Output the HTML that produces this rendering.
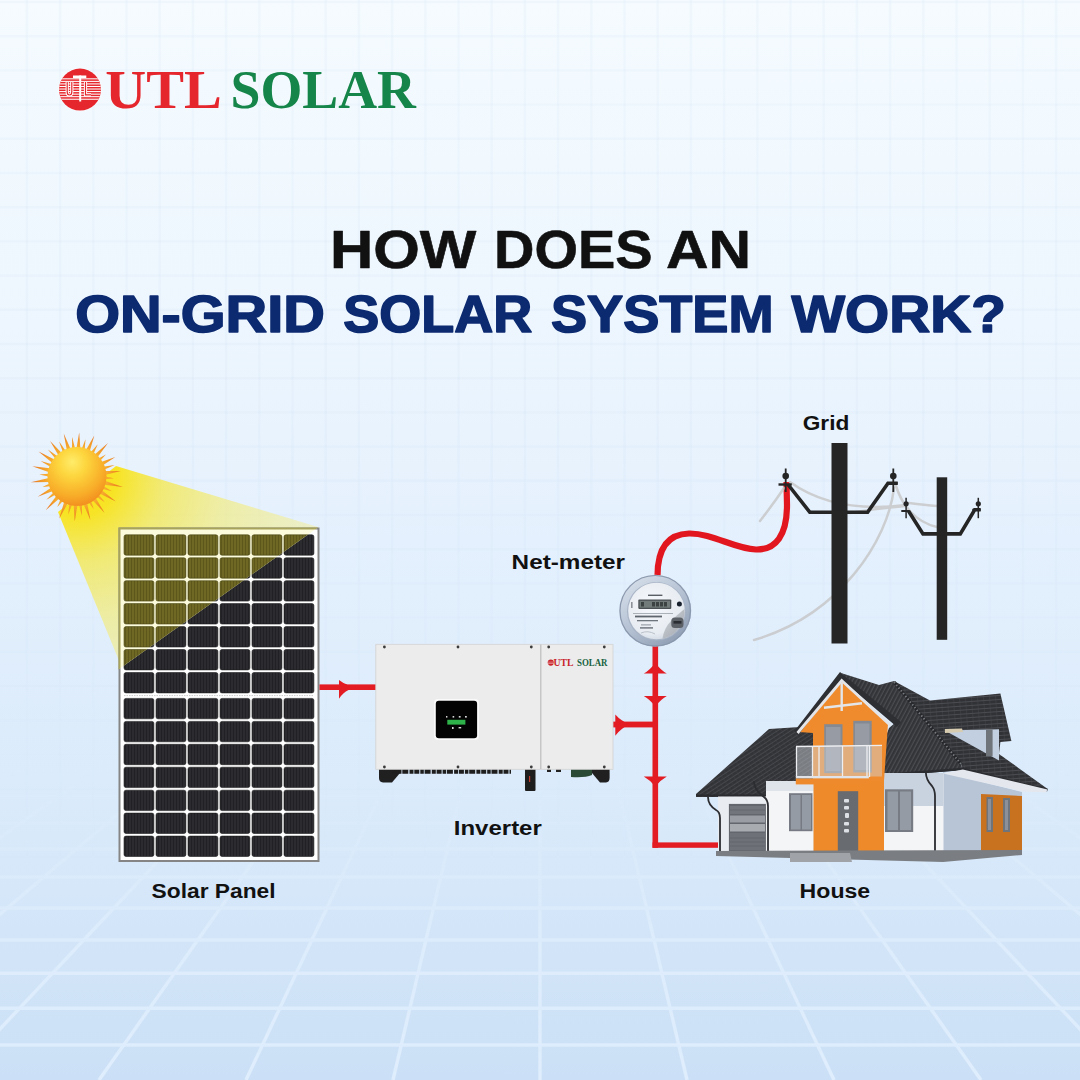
<!DOCTYPE html>
<html><head><meta charset="utf-8"><title>UTL Solar</title>
<style>
html,body{margin:0;padding:0}
body{width:1080px;height:1080px;overflow:hidden;position:relative;background:#e6f1fc;font-family:"Liberation Sans",sans-serif}
svg{position:absolute;left:0;top:0;display:block}
</style></head><body>
<svg width="1080" height="1080" viewBox="0 0 1080 1080">
<defs>
<linearGradient id="bgG" x1="0" y1="0" x2="0" y2="1">
  <stop offset="0" stop-color="#f5fbff"/>
  <stop offset="0.3" stop-color="#edf6fe"/>
  <stop offset="0.5" stop-color="#e4f0fd"/>
  <stop offset="0.72" stop-color="#dbebfb"/>
  <stop offset="1" stop-color="#cbe0f6"/>
</linearGradient>
<linearGradient id="floorFade" x1="0" y1="0" x2="0" y2="1">
  <stop offset="0" stop-color="#fff" stop-opacity="0"/>
  <stop offset="0.3" stop-color="#fff" stop-opacity="0.3"/>
  <stop offset="0.55" stop-color="#fff" stop-opacity="0.75"/>
  <stop offset="1" stop-color="#fff" stop-opacity="1"/>
</linearGradient>
<mask id="floorMask"><rect x="0" y="760" width="1080" height="320" fill="url(#floorFade)"/></mask>
<linearGradient id="gridFade" x1="0" y1="0" x2="0" y2="1">
  <stop offset="0" stop-color="#fff" stop-opacity="1"/>
  <stop offset="0.45" stop-color="#fff" stop-opacity="1"/>
  <stop offset="0.7" stop-color="#fff" stop-opacity="0.45"/>
  <stop offset="1" stop-color="#fff" stop-opacity="0"/>
</linearGradient>
<mask id="gridMask"><rect x="0" y="0" width="1080" height="880" fill="url(#gridFade)"/></mask>
<radialGradient id="sunG" cx="0.42" cy="0.3" r="0.78" fx="0.42" fy="0.25">
  <stop offset="0" stop-color="#ffec6a"/>
  <stop offset="0.3" stop-color="#fdd63e"/>
  <stop offset="0.7" stop-color="#f8ac28"/>
  <stop offset="1" stop-color="#f0841c"/>
</radialGradient>
<radialGradient id="rayG" gradientUnits="userSpaceOnUse" cx="77" cy="476.5" r="45">
  <stop offset="0.6" stop-color="#f9b631"/>
  <stop offset="0.85" stop-color="#f09026"/>
  <stop offset="1" stop-color="#e76f1c"/>
</radialGradient>
<radialGradient id="beamG" gradientUnits="userSpaceOnUse" cx="77" cy="476" r="250">
  <stop offset="0" stop-color="#f9e210" stop-opacity="1"/>
  <stop offset="0.16" stop-color="#f8e31a" stop-opacity="0.95"/>
  <stop offset="0.35" stop-color="#f5e84a" stop-opacity="0.75"/>
  <stop offset="0.6" stop-color="#f2ec80" stop-opacity="0.68"/>
  <stop offset="1" stop-color="#f0eeaa" stop-opacity="0.6"/>
</radialGradient>
<clipPath id="beamClip"><polygon points="117,526 320,526 117,670.5"/></clipPath>
<pattern id="cellPY" patternUnits="userSpaceOnUse" width="3" height="40" x="0" y="0">
  <rect width="3" height="40" fill="#6e6824"/>
  <rect x="2.2" width="0.8" height="40" fill="#58531a"/>
</pattern>
<pattern id="cellP" patternUnits="userSpaceOnUse" width="3" height="40" x="0" y="0">
  <rect width="3" height="40" fill="#2c2c30"/>
  <rect x="2.2" width="0.8" height="40" fill="#1e1e22"/>
</pattern>
</defs>
<rect width="1080" height="1080" fill="url(#bgG)"/><g stroke="rgb(150,180,215)" stroke-opacity="0.055" stroke-width="2.4" mask="url(#gridMask)"><line x1="26.9" y1="0" x2="26.9" y2="1080"/><line x1="60.1" y1="0" x2="60.1" y2="1080"/><line x1="93.3" y1="0" x2="93.3" y2="1080"/><line x1="126.5" y1="0" x2="126.5" y2="1080"/><line x1="159.7" y1="0" x2="159.7" y2="1080"/><line x1="192.9" y1="0" x2="192.9" y2="1080"/><line x1="226.1" y1="0" x2="226.1" y2="1080"/><line x1="259.3" y1="0" x2="259.3" y2="1080"/><line x1="292.5" y1="0" x2="292.5" y2="1080"/><line x1="325.7" y1="0" x2="325.7" y2="1080"/><line x1="358.9" y1="0" x2="358.9" y2="1080"/><line x1="392.1" y1="0" x2="392.1" y2="1080"/><line x1="425.3" y1="0" x2="425.3" y2="1080"/><line x1="458.5" y1="0" x2="458.5" y2="1080"/><line x1="491.7" y1="0" x2="491.7" y2="1080"/><line x1="524.9" y1="0" x2="524.9" y2="1080"/><line x1="558.1" y1="0" x2="558.1" y2="1080"/><line x1="591.3" y1="0" x2="591.3" y2="1080"/><line x1="624.5" y1="0" x2="624.5" y2="1080"/><line x1="657.7" y1="0" x2="657.7" y2="1080"/><line x1="690.9" y1="0" x2="690.9" y2="1080"/><line x1="724.1" y1="0" x2="724.1" y2="1080"/><line x1="757.3" y1="0" x2="757.3" y2="1080"/><line x1="790.5" y1="0" x2="790.5" y2="1080"/><line x1="823.7" y1="0" x2="823.7" y2="1080"/><line x1="856.9" y1="0" x2="856.9" y2="1080"/><line x1="890.1" y1="0" x2="890.1" y2="1080"/><line x1="923.3" y1="0" x2="923.3" y2="1080"/><line x1="956.5" y1="0" x2="956.5" y2="1080"/><line x1="989.7" y1="0" x2="989.7" y2="1080"/><line x1="1022.9" y1="0" x2="1022.9" y2="1080"/><line x1="1056.1" y1="0" x2="1056.1" y2="1080"/><line x1="0" y1="2.0" x2="1080" y2="2.0"/><line x1="0" y1="36.2" x2="1080" y2="36.2"/><line x1="0" y1="70.4" x2="1080" y2="70.4"/><line x1="0" y1="104.6" x2="1080" y2="104.6"/><line x1="0" y1="138.8" x2="1080" y2="138.8"/><line x1="0" y1="173.0" x2="1080" y2="173.0"/><line x1="0" y1="207.2" x2="1080" y2="207.2"/><line x1="0" y1="241.4" x2="1080" y2="241.4"/><line x1="0" y1="275.6" x2="1080" y2="275.6"/><line x1="0" y1="309.8" x2="1080" y2="309.8"/><line x1="0" y1="344.0" x2="1080" y2="344.0"/><line x1="0" y1="378.2" x2="1080" y2="378.2"/><line x1="0" y1="412.4" x2="1080" y2="412.4"/><line x1="0" y1="446.6" x2="1080" y2="446.6"/><line x1="0" y1="480.8" x2="1080" y2="480.8"/><line x1="0" y1="515.0" x2="1080" y2="515.0"/><line x1="0" y1="549.2" x2="1080" y2="549.2"/><line x1="0" y1="583.4" x2="1080" y2="583.4"/><line x1="0" y1="617.6" x2="1080" y2="617.6"/><line x1="0" y1="651.8" x2="1080" y2="651.8"/><line x1="0" y1="686.0" x2="1080" y2="686.0"/><line x1="0" y1="720.2" x2="1080" y2="720.2"/><line x1="0" y1="754.4" x2="1080" y2="754.4"/><line x1="0" y1="788.6" x2="1080" y2="788.6"/><line x1="0" y1="822.8" x2="1080" y2="822.8"/><line x1="0" y1="857.0" x2="1080" y2="857.0"/><line x1="0" y1="891.2" x2="1080" y2="891.2"/><line x1="0" y1="925.4" x2="1080" y2="925.4"/><line x1="0" y1="959.6" x2="1080" y2="959.6"/><line x1="0" y1="993.8" x2="1080" y2="993.8"/><line x1="0" y1="1028.0" x2="1080" y2="1028.0"/><line x1="0" y1="1062.2" x2="1080" y2="1062.2"/></g><g stroke="#e6f2ff" stroke-width="3.4" mask="url(#floorMask)" opacity="0.75"><line x1="-783" y1="1080" x2="-105.6" y2="760"/><line x1="-636" y1="1080" x2="-33.9" y2="760"/><line x1="-489" y1="1080" x2="37.8" y2="760"/><line x1="-342" y1="1080" x2="109.6" y2="760"/><line x1="-195" y1="1080" x2="181.3" y2="760"/><line x1="-48" y1="1080" x2="253.1" y2="760"/><line x1="99" y1="1080" x2="324.8" y2="760"/><line x1="246" y1="1080" x2="396.5" y2="760"/><line x1="393" y1="1080" x2="468.3" y2="760"/><line x1="540" y1="1080" x2="540.0" y2="760"/><line x1="687" y1="1080" x2="611.7" y2="760"/><line x1="834" y1="1080" x2="683.5" y2="760"/><line x1="981" y1="1080" x2="755.2" y2="760"/><line x1="1128" y1="1080" x2="826.9" y2="760"/><line x1="1275" y1="1080" x2="898.7" y2="760"/><line x1="1422" y1="1080" x2="970.4" y2="760"/><line x1="1569" y1="1080" x2="1042.2" y2="760"/><line x1="1716" y1="1080" x2="1113.9" y2="760"/><line x1="1863" y1="1080" x2="1185.6" y2="760"/><line x1="0" y1="797" x2="1080" y2="797"/><line x1="0" y1="823" x2="1080" y2="823"/><line x1="0" y1="849" x2="1080" y2="849"/><line x1="0" y1="877" x2="1080" y2="877"/><line x1="0" y1="908" x2="1080" y2="908"/><line x1="0" y1="940" x2="1080" y2="940"/><line x1="0" y1="973.3" x2="1080" y2="973.3"/><line x1="0" y1="1008.3" x2="1080" y2="1008.3"/><line x1="0" y1="1045" x2="1080" y2="1045"/></g><polygon points="116,466 318,527 318,530 122,668 58,512" fill="url(#beamG)"/><rect x="119.5" y="528.5" width="199" height="332.5" fill="#ffffff" stroke="#858585" stroke-width="2"/><rect x="124.0" y="534.8" width="29.9" height="20.4" rx="2" fill="url(#cellP)" stroke="#1c1c1f" stroke-width="0.6"/><rect x="156.0" y="534.8" width="29.9" height="20.4" rx="2" fill="url(#cellP)" stroke="#1c1c1f" stroke-width="0.6"/><rect x="188.0" y="534.8" width="29.9" height="20.4" rx="2" fill="url(#cellP)" stroke="#1c1c1f" stroke-width="0.6"/><rect x="220.0" y="534.8" width="29.9" height="20.4" rx="2" fill="url(#cellP)" stroke="#1c1c1f" stroke-width="0.6"/><rect x="252.0" y="534.8" width="29.9" height="20.4" rx="2" fill="url(#cellP)" stroke="#1c1c1f" stroke-width="0.6"/><rect x="284.0" y="534.8" width="29.9" height="20.4" rx="2" fill="url(#cellP)" stroke="#1c1c1f" stroke-width="0.6"/><rect x="124.0" y="557.8" width="29.9" height="20.4" rx="2" fill="url(#cellP)" stroke="#1c1c1f" stroke-width="0.6"/><rect x="156.0" y="557.8" width="29.9" height="20.4" rx="2" fill="url(#cellP)" stroke="#1c1c1f" stroke-width="0.6"/><rect x="188.0" y="557.8" width="29.9" height="20.4" rx="2" fill="url(#cellP)" stroke="#1c1c1f" stroke-width="0.6"/><rect x="220.0" y="557.8" width="29.9" height="20.4" rx="2" fill="url(#cellP)" stroke="#1c1c1f" stroke-width="0.6"/><rect x="252.0" y="557.8" width="29.9" height="20.4" rx="2" fill="url(#cellP)" stroke="#1c1c1f" stroke-width="0.6"/><rect x="284.0" y="557.8" width="29.9" height="20.4" rx="2" fill="url(#cellP)" stroke="#1c1c1f" stroke-width="0.6"/><rect x="124.0" y="580.7" width="29.9" height="20.4" rx="2" fill="url(#cellP)" stroke="#1c1c1f" stroke-width="0.6"/><rect x="156.0" y="580.7" width="29.9" height="20.4" rx="2" fill="url(#cellP)" stroke="#1c1c1f" stroke-width="0.6"/><rect x="188.0" y="580.7" width="29.9" height="20.4" rx="2" fill="url(#cellP)" stroke="#1c1c1f" stroke-width="0.6"/><rect x="220.0" y="580.7" width="29.9" height="20.4" rx="2" fill="url(#cellP)" stroke="#1c1c1f" stroke-width="0.6"/><rect x="252.0" y="580.7" width="29.9" height="20.4" rx="2" fill="url(#cellP)" stroke="#1c1c1f" stroke-width="0.6"/><rect x="284.0" y="580.7" width="29.9" height="20.4" rx="2" fill="url(#cellP)" stroke="#1c1c1f" stroke-width="0.6"/><rect x="124.0" y="603.6" width="29.9" height="20.4" rx="2" fill="url(#cellP)" stroke="#1c1c1f" stroke-width="0.6"/><rect x="156.0" y="603.6" width="29.9" height="20.4" rx="2" fill="url(#cellP)" stroke="#1c1c1f" stroke-width="0.6"/><rect x="188.0" y="603.6" width="29.9" height="20.4" rx="2" fill="url(#cellP)" stroke="#1c1c1f" stroke-width="0.6"/><rect x="220.0" y="603.6" width="29.9" height="20.4" rx="2" fill="url(#cellP)" stroke="#1c1c1f" stroke-width="0.6"/><rect x="252.0" y="603.6" width="29.9" height="20.4" rx="2" fill="url(#cellP)" stroke="#1c1c1f" stroke-width="0.6"/><rect x="284.0" y="603.6" width="29.9" height="20.4" rx="2" fill="url(#cellP)" stroke="#1c1c1f" stroke-width="0.6"/><rect x="124.0" y="626.6" width="29.9" height="20.4" rx="2" fill="url(#cellP)" stroke="#1c1c1f" stroke-width="0.6"/><rect x="156.0" y="626.6" width="29.9" height="20.4" rx="2" fill="url(#cellP)" stroke="#1c1c1f" stroke-width="0.6"/><rect x="188.0" y="626.6" width="29.9" height="20.4" rx="2" fill="url(#cellP)" stroke="#1c1c1f" stroke-width="0.6"/><rect x="220.0" y="626.6" width="29.9" height="20.4" rx="2" fill="url(#cellP)" stroke="#1c1c1f" stroke-width="0.6"/><rect x="252.0" y="626.6" width="29.9" height="20.4" rx="2" fill="url(#cellP)" stroke="#1c1c1f" stroke-width="0.6"/><rect x="284.0" y="626.6" width="29.9" height="20.4" rx="2" fill="url(#cellP)" stroke="#1c1c1f" stroke-width="0.6"/><rect x="124.0" y="649.5" width="29.9" height="20.4" rx="2" fill="url(#cellP)" stroke="#1c1c1f" stroke-width="0.6"/><rect x="156.0" y="649.5" width="29.9" height="20.4" rx="2" fill="url(#cellP)" stroke="#1c1c1f" stroke-width="0.6"/><rect x="188.0" y="649.5" width="29.9" height="20.4" rx="2" fill="url(#cellP)" stroke="#1c1c1f" stroke-width="0.6"/><rect x="220.0" y="649.5" width="29.9" height="20.4" rx="2" fill="url(#cellP)" stroke="#1c1c1f" stroke-width="0.6"/><rect x="252.0" y="649.5" width="29.9" height="20.4" rx="2" fill="url(#cellP)" stroke="#1c1c1f" stroke-width="0.6"/><rect x="284.0" y="649.5" width="29.9" height="20.4" rx="2" fill="url(#cellP)" stroke="#1c1c1f" stroke-width="0.6"/><rect x="124.0" y="672.5" width="29.9" height="20.4" rx="2" fill="url(#cellP)" stroke="#1c1c1f" stroke-width="0.6"/><rect x="156.0" y="672.5" width="29.9" height="20.4" rx="2" fill="url(#cellP)" stroke="#1c1c1f" stroke-width="0.6"/><rect x="188.0" y="672.5" width="29.9" height="20.4" rx="2" fill="url(#cellP)" stroke="#1c1c1f" stroke-width="0.6"/><rect x="220.0" y="672.5" width="29.9" height="20.4" rx="2" fill="url(#cellP)" stroke="#1c1c1f" stroke-width="0.6"/><rect x="252.0" y="672.5" width="29.9" height="20.4" rx="2" fill="url(#cellP)" stroke="#1c1c1f" stroke-width="0.6"/><rect x="284.0" y="672.5" width="29.9" height="20.4" rx="2" fill="url(#cellP)" stroke="#1c1c1f" stroke-width="0.6"/><rect x="124.0" y="698.4" width="29.9" height="20.4" rx="2" fill="url(#cellP)" stroke="#1c1c1f" stroke-width="0.6"/><rect x="156.0" y="698.4" width="29.9" height="20.4" rx="2" fill="url(#cellP)" stroke="#1c1c1f" stroke-width="0.6"/><rect x="188.0" y="698.4" width="29.9" height="20.4" rx="2" fill="url(#cellP)" stroke="#1c1c1f" stroke-width="0.6"/><rect x="220.0" y="698.4" width="29.9" height="20.4" rx="2" fill="url(#cellP)" stroke="#1c1c1f" stroke-width="0.6"/><rect x="252.0" y="698.4" width="29.9" height="20.4" rx="2" fill="url(#cellP)" stroke="#1c1c1f" stroke-width="0.6"/><rect x="284.0" y="698.4" width="29.9" height="20.4" rx="2" fill="url(#cellP)" stroke="#1c1c1f" stroke-width="0.6"/><rect x="124.0" y="721.4" width="29.9" height="20.4" rx="2" fill="url(#cellP)" stroke="#1c1c1f" stroke-width="0.6"/><rect x="156.0" y="721.4" width="29.9" height="20.4" rx="2" fill="url(#cellP)" stroke="#1c1c1f" stroke-width="0.6"/><rect x="188.0" y="721.4" width="29.9" height="20.4" rx="2" fill="url(#cellP)" stroke="#1c1c1f" stroke-width="0.6"/><rect x="220.0" y="721.4" width="29.9" height="20.4" rx="2" fill="url(#cellP)" stroke="#1c1c1f" stroke-width="0.6"/><rect x="252.0" y="721.4" width="29.9" height="20.4" rx="2" fill="url(#cellP)" stroke="#1c1c1f" stroke-width="0.6"/><rect x="284.0" y="721.4" width="29.9" height="20.4" rx="2" fill="url(#cellP)" stroke="#1c1c1f" stroke-width="0.6"/><rect x="124.0" y="744.3" width="29.9" height="20.4" rx="2" fill="url(#cellP)" stroke="#1c1c1f" stroke-width="0.6"/><rect x="156.0" y="744.3" width="29.9" height="20.4" rx="2" fill="url(#cellP)" stroke="#1c1c1f" stroke-width="0.6"/><rect x="188.0" y="744.3" width="29.9" height="20.4" rx="2" fill="url(#cellP)" stroke="#1c1c1f" stroke-width="0.6"/><rect x="220.0" y="744.3" width="29.9" height="20.4" rx="2" fill="url(#cellP)" stroke="#1c1c1f" stroke-width="0.6"/><rect x="252.0" y="744.3" width="29.9" height="20.4" rx="2" fill="url(#cellP)" stroke="#1c1c1f" stroke-width="0.6"/><rect x="284.0" y="744.3" width="29.9" height="20.4" rx="2" fill="url(#cellP)" stroke="#1c1c1f" stroke-width="0.6"/><rect x="124.0" y="767.2" width="29.9" height="20.4" rx="2" fill="url(#cellP)" stroke="#1c1c1f" stroke-width="0.6"/><rect x="156.0" y="767.2" width="29.9" height="20.4" rx="2" fill="url(#cellP)" stroke="#1c1c1f" stroke-width="0.6"/><rect x="188.0" y="767.2" width="29.9" height="20.4" rx="2" fill="url(#cellP)" stroke="#1c1c1f" stroke-width="0.6"/><rect x="220.0" y="767.2" width="29.9" height="20.4" rx="2" fill="url(#cellP)" stroke="#1c1c1f" stroke-width="0.6"/><rect x="252.0" y="767.2" width="29.9" height="20.4" rx="2" fill="url(#cellP)" stroke="#1c1c1f" stroke-width="0.6"/><rect x="284.0" y="767.2" width="29.9" height="20.4" rx="2" fill="url(#cellP)" stroke="#1c1c1f" stroke-width="0.6"/><rect x="124.0" y="790.2" width="29.9" height="20.4" rx="2" fill="url(#cellP)" stroke="#1c1c1f" stroke-width="0.6"/><rect x="156.0" y="790.2" width="29.9" height="20.4" rx="2" fill="url(#cellP)" stroke="#1c1c1f" stroke-width="0.6"/><rect x="188.0" y="790.2" width="29.9" height="20.4" rx="2" fill="url(#cellP)" stroke="#1c1c1f" stroke-width="0.6"/><rect x="220.0" y="790.2" width="29.9" height="20.4" rx="2" fill="url(#cellP)" stroke="#1c1c1f" stroke-width="0.6"/><rect x="252.0" y="790.2" width="29.9" height="20.4" rx="2" fill="url(#cellP)" stroke="#1c1c1f" stroke-width="0.6"/><rect x="284.0" y="790.2" width="29.9" height="20.4" rx="2" fill="url(#cellP)" stroke="#1c1c1f" stroke-width="0.6"/><rect x="124.0" y="813.1" width="29.9" height="20.4" rx="2" fill="url(#cellP)" stroke="#1c1c1f" stroke-width="0.6"/><rect x="156.0" y="813.1" width="29.9" height="20.4" rx="2" fill="url(#cellP)" stroke="#1c1c1f" stroke-width="0.6"/><rect x="188.0" y="813.1" width="29.9" height="20.4" rx="2" fill="url(#cellP)" stroke="#1c1c1f" stroke-width="0.6"/><rect x="220.0" y="813.1" width="29.9" height="20.4" rx="2" fill="url(#cellP)" stroke="#1c1c1f" stroke-width="0.6"/><rect x="252.0" y="813.1" width="29.9" height="20.4" rx="2" fill="url(#cellP)" stroke="#1c1c1f" stroke-width="0.6"/><rect x="284.0" y="813.1" width="29.9" height="20.4" rx="2" fill="url(#cellP)" stroke="#1c1c1f" stroke-width="0.6"/><rect x="124.0" y="836.1" width="29.9" height="20.4" rx="2" fill="url(#cellP)" stroke="#1c1c1f" stroke-width="0.6"/><rect x="156.0" y="836.1" width="29.9" height="20.4" rx="2" fill="url(#cellP)" stroke="#1c1c1f" stroke-width="0.6"/><rect x="188.0" y="836.1" width="29.9" height="20.4" rx="2" fill="url(#cellP)" stroke="#1c1c1f" stroke-width="0.6"/><rect x="220.0" y="836.1" width="29.9" height="20.4" rx="2" fill="url(#cellP)" stroke="#1c1c1f" stroke-width="0.6"/><rect x="252.0" y="836.1" width="29.9" height="20.4" rx="2" fill="url(#cellP)" stroke="#1c1c1f" stroke-width="0.6"/><rect x="284.0" y="836.1" width="29.9" height="20.4" rx="2" fill="url(#cellP)" stroke="#1c1c1f" stroke-width="0.6"/><line x1="124" y1="695.6" x2="314" y2="695.6" stroke="#bdbdbd" stroke-width="0.8" stroke-dasharray="1.5 1"/><g clip-path="url(#beamClip)"><rect x="119.5" y="528.5" width="199" height="332.5" fill="#fcfbdc" stroke="#a8a35a" stroke-width="2"/><rect x="124.0" y="534.8" width="29.9" height="20.4" rx="2" fill="url(#cellPY)" stroke="#4a4514" stroke-width="0.6"/><rect x="156.0" y="534.8" width="29.9" height="20.4" rx="2" fill="url(#cellPY)" stroke="#4a4514" stroke-width="0.6"/><rect x="188.0" y="534.8" width="29.9" height="20.4" rx="2" fill="url(#cellPY)" stroke="#4a4514" stroke-width="0.6"/><rect x="220.0" y="534.8" width="29.9" height="20.4" rx="2" fill="url(#cellPY)" stroke="#4a4514" stroke-width="0.6"/><rect x="252.0" y="534.8" width="29.9" height="20.4" rx="2" fill="url(#cellPY)" stroke="#4a4514" stroke-width="0.6"/><rect x="284.0" y="534.8" width="29.9" height="20.4" rx="2" fill="url(#cellPY)" stroke="#4a4514" stroke-width="0.6"/><rect x="124.0" y="557.8" width="29.9" height="20.4" rx="2" fill="url(#cellPY)" stroke="#4a4514" stroke-width="0.6"/><rect x="156.0" y="557.8" width="29.9" height="20.4" rx="2" fill="url(#cellPY)" stroke="#4a4514" stroke-width="0.6"/><rect x="188.0" y="557.8" width="29.9" height="20.4" rx="2" fill="url(#cellPY)" stroke="#4a4514" stroke-width="0.6"/><rect x="220.0" y="557.8" width="29.9" height="20.4" rx="2" fill="url(#cellPY)" stroke="#4a4514" stroke-width="0.6"/><rect x="252.0" y="557.8" width="29.9" height="20.4" rx="2" fill="url(#cellPY)" stroke="#4a4514" stroke-width="0.6"/><rect x="284.0" y="557.8" width="29.9" height="20.4" rx="2" fill="url(#cellPY)" stroke="#4a4514" stroke-width="0.6"/><rect x="124.0" y="580.7" width="29.9" height="20.4" rx="2" fill="url(#cellPY)" stroke="#4a4514" stroke-width="0.6"/><rect x="156.0" y="580.7" width="29.9" height="20.4" rx="2" fill="url(#cellPY)" stroke="#4a4514" stroke-width="0.6"/><rect x="188.0" y="580.7" width="29.9" height="20.4" rx="2" fill="url(#cellPY)" stroke="#4a4514" stroke-width="0.6"/><rect x="220.0" y="580.7" width="29.9" height="20.4" rx="2" fill="url(#cellPY)" stroke="#4a4514" stroke-width="0.6"/><rect x="252.0" y="580.7" width="29.9" height="20.4" rx="2" fill="url(#cellPY)" stroke="#4a4514" stroke-width="0.6"/><rect x="284.0" y="580.7" width="29.9" height="20.4" rx="2" fill="url(#cellPY)" stroke="#4a4514" stroke-width="0.6"/><rect x="124.0" y="603.6" width="29.9" height="20.4" rx="2" fill="url(#cellPY)" stroke="#4a4514" stroke-width="0.6"/><rect x="156.0" y="603.6" width="29.9" height="20.4" rx="2" fill="url(#cellPY)" stroke="#4a4514" stroke-width="0.6"/><rect x="188.0" y="603.6" width="29.9" height="20.4" rx="2" fill="url(#cellPY)" stroke="#4a4514" stroke-width="0.6"/><rect x="220.0" y="603.6" width="29.9" height="20.4" rx="2" fill="url(#cellPY)" stroke="#4a4514" stroke-width="0.6"/><rect x="252.0" y="603.6" width="29.9" height="20.4" rx="2" fill="url(#cellPY)" stroke="#4a4514" stroke-width="0.6"/><rect x="284.0" y="603.6" width="29.9" height="20.4" rx="2" fill="url(#cellPY)" stroke="#4a4514" stroke-width="0.6"/><rect x="124.0" y="626.6" width="29.9" height="20.4" rx="2" fill="url(#cellPY)" stroke="#4a4514" stroke-width="0.6"/><rect x="156.0" y="626.6" width="29.9" height="20.4" rx="2" fill="url(#cellPY)" stroke="#4a4514" stroke-width="0.6"/><rect x="188.0" y="626.6" width="29.9" height="20.4" rx="2" fill="url(#cellPY)" stroke="#4a4514" stroke-width="0.6"/><rect x="220.0" y="626.6" width="29.9" height="20.4" rx="2" fill="url(#cellPY)" stroke="#4a4514" stroke-width="0.6"/><rect x="252.0" y="626.6" width="29.9" height="20.4" rx="2" fill="url(#cellPY)" stroke="#4a4514" stroke-width="0.6"/><rect x="284.0" y="626.6" width="29.9" height="20.4" rx="2" fill="url(#cellPY)" stroke="#4a4514" stroke-width="0.6"/><rect x="124.0" y="649.5" width="29.9" height="20.4" rx="2" fill="url(#cellPY)" stroke="#4a4514" stroke-width="0.6"/><rect x="156.0" y="649.5" width="29.9" height="20.4" rx="2" fill="url(#cellPY)" stroke="#4a4514" stroke-width="0.6"/><rect x="188.0" y="649.5" width="29.9" height="20.4" rx="2" fill="url(#cellPY)" stroke="#4a4514" stroke-width="0.6"/><rect x="220.0" y="649.5" width="29.9" height="20.4" rx="2" fill="url(#cellPY)" stroke="#4a4514" stroke-width="0.6"/><rect x="252.0" y="649.5" width="29.9" height="20.4" rx="2" fill="url(#cellPY)" stroke="#4a4514" stroke-width="0.6"/><rect x="284.0" y="649.5" width="29.9" height="20.4" rx="2" fill="url(#cellPY)" stroke="#4a4514" stroke-width="0.6"/><rect x="124.0" y="672.5" width="29.9" height="20.4" rx="2" fill="url(#cellPY)" stroke="#4a4514" stroke-width="0.6"/><rect x="156.0" y="672.5" width="29.9" height="20.4" rx="2" fill="url(#cellPY)" stroke="#4a4514" stroke-width="0.6"/><rect x="188.0" y="672.5" width="29.9" height="20.4" rx="2" fill="url(#cellPY)" stroke="#4a4514" stroke-width="0.6"/><rect x="220.0" y="672.5" width="29.9" height="20.4" rx="2" fill="url(#cellPY)" stroke="#4a4514" stroke-width="0.6"/><rect x="252.0" y="672.5" width="29.9" height="20.4" rx="2" fill="url(#cellPY)" stroke="#4a4514" stroke-width="0.6"/><rect x="284.0" y="672.5" width="29.9" height="20.4" rx="2" fill="url(#cellPY)" stroke="#4a4514" stroke-width="0.6"/><rect x="124.0" y="698.4" width="29.9" height="20.4" rx="2" fill="url(#cellPY)" stroke="#4a4514" stroke-width="0.6"/><rect x="156.0" y="698.4" width="29.9" height="20.4" rx="2" fill="url(#cellPY)" stroke="#4a4514" stroke-width="0.6"/><rect x="188.0" y="698.4" width="29.9" height="20.4" rx="2" fill="url(#cellPY)" stroke="#4a4514" stroke-width="0.6"/><rect x="220.0" y="698.4" width="29.9" height="20.4" rx="2" fill="url(#cellPY)" stroke="#4a4514" stroke-width="0.6"/><rect x="252.0" y="698.4" width="29.9" height="20.4" rx="2" fill="url(#cellPY)" stroke="#4a4514" stroke-width="0.6"/><rect x="284.0" y="698.4" width="29.9" height="20.4" rx="2" fill="url(#cellPY)" stroke="#4a4514" stroke-width="0.6"/><rect x="124.0" y="721.4" width="29.9" height="20.4" rx="2" fill="url(#cellPY)" stroke="#4a4514" stroke-width="0.6"/><rect x="156.0" y="721.4" width="29.9" height="20.4" rx="2" fill="url(#cellPY)" stroke="#4a4514" stroke-width="0.6"/><rect x="188.0" y="721.4" width="29.9" height="20.4" rx="2" fill="url(#cellPY)" stroke="#4a4514" stroke-width="0.6"/><rect x="220.0" y="721.4" width="29.9" height="20.4" rx="2" fill="url(#cellPY)" stroke="#4a4514" stroke-width="0.6"/><rect x="252.0" y="721.4" width="29.9" height="20.4" rx="2" fill="url(#cellPY)" stroke="#4a4514" stroke-width="0.6"/><rect x="284.0" y="721.4" width="29.9" height="20.4" rx="2" fill="url(#cellPY)" stroke="#4a4514" stroke-width="0.6"/><rect x="124.0" y="744.3" width="29.9" height="20.4" rx="2" fill="url(#cellPY)" stroke="#4a4514" stroke-width="0.6"/><rect x="156.0" y="744.3" width="29.9" height="20.4" rx="2" fill="url(#cellPY)" stroke="#4a4514" stroke-width="0.6"/><rect x="188.0" y="744.3" width="29.9" height="20.4" rx="2" fill="url(#cellPY)" stroke="#4a4514" stroke-width="0.6"/><rect x="220.0" y="744.3" width="29.9" height="20.4" rx="2" fill="url(#cellPY)" stroke="#4a4514" stroke-width="0.6"/><rect x="252.0" y="744.3" width="29.9" height="20.4" rx="2" fill="url(#cellPY)" stroke="#4a4514" stroke-width="0.6"/><rect x="284.0" y="744.3" width="29.9" height="20.4" rx="2" fill="url(#cellPY)" stroke="#4a4514" stroke-width="0.6"/><rect x="124.0" y="767.2" width="29.9" height="20.4" rx="2" fill="url(#cellPY)" stroke="#4a4514" stroke-width="0.6"/><rect x="156.0" y="767.2" width="29.9" height="20.4" rx="2" fill="url(#cellPY)" stroke="#4a4514" stroke-width="0.6"/><rect x="188.0" y="767.2" width="29.9" height="20.4" rx="2" fill="url(#cellPY)" stroke="#4a4514" stroke-width="0.6"/><rect x="220.0" y="767.2" width="29.9" height="20.4" rx="2" fill="url(#cellPY)" stroke="#4a4514" stroke-width="0.6"/><rect x="252.0" y="767.2" width="29.9" height="20.4" rx="2" fill="url(#cellPY)" stroke="#4a4514" stroke-width="0.6"/><rect x="284.0" y="767.2" width="29.9" height="20.4" rx="2" fill="url(#cellPY)" stroke="#4a4514" stroke-width="0.6"/><rect x="124.0" y="790.2" width="29.9" height="20.4" rx="2" fill="url(#cellPY)" stroke="#4a4514" stroke-width="0.6"/><rect x="156.0" y="790.2" width="29.9" height="20.4" rx="2" fill="url(#cellPY)" stroke="#4a4514" stroke-width="0.6"/><rect x="188.0" y="790.2" width="29.9" height="20.4" rx="2" fill="url(#cellPY)" stroke="#4a4514" stroke-width="0.6"/><rect x="220.0" y="790.2" width="29.9" height="20.4" rx="2" fill="url(#cellPY)" stroke="#4a4514" stroke-width="0.6"/><rect x="252.0" y="790.2" width="29.9" height="20.4" rx="2" fill="url(#cellPY)" stroke="#4a4514" stroke-width="0.6"/><rect x="284.0" y="790.2" width="29.9" height="20.4" rx="2" fill="url(#cellPY)" stroke="#4a4514" stroke-width="0.6"/><rect x="124.0" y="813.1" width="29.9" height="20.4" rx="2" fill="url(#cellPY)" stroke="#4a4514" stroke-width="0.6"/><rect x="156.0" y="813.1" width="29.9" height="20.4" rx="2" fill="url(#cellPY)" stroke="#4a4514" stroke-width="0.6"/><rect x="188.0" y="813.1" width="29.9" height="20.4" rx="2" fill="url(#cellPY)" stroke="#4a4514" stroke-width="0.6"/><rect x="220.0" y="813.1" width="29.9" height="20.4" rx="2" fill="url(#cellPY)" stroke="#4a4514" stroke-width="0.6"/><rect x="252.0" y="813.1" width="29.9" height="20.4" rx="2" fill="url(#cellPY)" stroke="#4a4514" stroke-width="0.6"/><rect x="284.0" y="813.1" width="29.9" height="20.4" rx="2" fill="url(#cellPY)" stroke="#4a4514" stroke-width="0.6"/><rect x="124.0" y="836.1" width="29.9" height="20.4" rx="2" fill="url(#cellPY)" stroke="#4a4514" stroke-width="0.6"/><rect x="156.0" y="836.1" width="29.9" height="20.4" rx="2" fill="url(#cellPY)" stroke="#4a4514" stroke-width="0.6"/><rect x="188.0" y="836.1" width="29.9" height="20.4" rx="2" fill="url(#cellPY)" stroke="#4a4514" stroke-width="0.6"/><rect x="220.0" y="836.1" width="29.9" height="20.4" rx="2" fill="url(#cellPY)" stroke="#4a4514" stroke-width="0.6"/><rect x="252.0" y="836.1" width="29.9" height="20.4" rx="2" fill="url(#cellPY)" stroke="#4a4514" stroke-width="0.6"/><rect x="284.0" y="836.1" width="29.9" height="20.4" rx="2" fill="url(#cellPY)" stroke="#4a4514" stroke-width="0.6"/><line x1="124" y1="695.6" x2="314" y2="695.6" stroke="#bdbdbd" stroke-width="0.8" stroke-dasharray="1.5 1"/></g><g fill="url(#rayG)"><polygon points="76.1,450.5 79.2,432.6 80.5,450.7"/><polygon points="81.0,450.8 85.5,439.3 84.5,451.6"/><polygon points="85.0,451.8 94.3,435.5 89.1,453.5"/><polygon points="89.5,453.7 97.8,444.2 92.6,455.7"/><polygon points="93.0,456.0 108.0,443.1 96.2,459.0"/><polygon points="96.6,459.4 105.9,454.6 98.8,462.3"/><polygon points="99.0,462.7 115.3,456.9 101.1,466.6"/><polygon points="101.2,467.1 114.6,464.9 102.3,470.6"/><polygon points="102.4,471.1 120.7,471.0 103.0,475.5"/><polygon points="103.0,476.0 113.9,478.3 102.8,479.6"/><polygon points="102.7,480.1 122.8,487.0 101.8,484.4"/><polygon points="101.6,484.9 111.9,491.2 100.2,488.3"/><polygon points="100.0,488.7 115.9,501.6 97.6,492.4"/><polygon points="97.2,492.8 104.8,502.3 94.8,495.5"/><polygon points="94.4,495.8 104.5,512.8 90.9,498.5"/><polygon points="90.4,498.8 93.7,509.1 87.2,500.4"/><polygon points="86.7,500.6 90.4,520.0 82.5,501.9"/><polygon points="82.0,502.0 81.9,515.7 78.4,502.5"/><polygon points="77.9,502.5 74.7,521.5 73.5,502.3"/><polygon points="73.0,502.2 68.3,514.5 69.5,501.4"/><polygon points="69.0,501.2 59.2,518.6 64.9,499.5"/><polygon points="64.5,499.3 57.3,507.0 61.4,497.3"/><polygon points="61.0,497.0 45.7,510.2 57.8,494.0"/><polygon points="57.4,493.6 46.4,499.7 55.2,490.7"/><polygon points="55.0,490.3 37.7,496.7 52.9,486.4"/><polygon points="52.8,485.9 42.5,487.1 51.7,482.4"/><polygon points="51.6,481.9 30.9,482.3 51.0,477.5"/><polygon points="51.0,477.0 39.2,474.6 51.2,473.4"/><polygon points="51.3,472.9 32.3,466.3 52.2,468.6"/><polygon points="52.4,468.1 40.6,461.1 53.8,464.7"/><polygon points="54.0,464.3 38.5,451.6 56.4,460.6"/><polygon points="56.8,460.2 47.9,449.5 59.2,457.5"/><polygon points="59.6,457.2 50.1,441.0 63.1,454.5"/><polygon points="63.6,454.2 59.1,441.6 66.8,452.6"/><polygon points="67.3,452.4 63.8,433.7 71.5,451.1"/><polygon points="72.0,451.0 72.1,437.1 75.6,450.5"/></g><circle cx="77" cy="476.5" r="29.5" fill="url(#sunG)"/>
<!-- ===== logo ===== -->
<defs>
<clipPath id="logoClip"><circle cx="80" cy="89.6" r="21"/></clipPath>
</defs>
<circle cx="80" cy="89.6" r="21.6" fill="#fff" opacity="0.7"/>
<circle cx="80" cy="89.6" r="21" fill="#e5262c"/>
<g clip-path="url(#logoClip)" fill="#fff"><rect x="55" y="78.30" width="50" height="1.05"/><rect x="55" y="80.85" width="50" height="1.05"/><rect x="55" y="83.40" width="50" height="1.05"/><rect x="55" y="85.95" width="50" height="1.05"/><rect x="55" y="88.50" width="50" height="1.05"/><rect x="55" y="91.05" width="50" height="1.05"/><rect x="55" y="93.60" width="50" height="1.05"/><rect x="55" y="96.15" width="50" height="1.05"/><rect x="55" y="98.70" width="50" height="1.05"/></g>
<rect x="73" y="75.5" width="13.3" height="2.6" fill="#fff"/>
<rect x="79.2" y="75.5" width="2" height="26" fill="#fff"/>
<path d="M67.2,82 V92 Q67.2,95 69.5,95 Q71.8,95 71.8,92 V82 M85.5,82 V94.8 H91" fill="none" stroke="#fff" stroke-width="3.2"/>
<path d="M67.2,82 V92 Q67.2,95 69.5,95 Q71.8,95 71.8,92 V82 M85.5,82 V94.8 H91" fill="none" stroke="#e5262c" stroke-width="1.2"/>
<g font-family="Liberation Serif" font-weight="bold">
<text x="105.3" y="107.5" font-size="55.5" fill="#e5262c" textLength="116.5" lengthAdjust="spacingAndGlyphs">UTL</text>
<text x="230.5" y="107.6" font-size="55.5" fill="#158549" textLength="185.5" lengthAdjust="spacingAndGlyphs">SOLAR</text>
</g>
<!-- ===== heading ===== -->
<g font-family="Liberation Sans" font-weight="bold" stroke-width="1.6" stroke-linejoin="round">
<text x="330.01" y="268" font-size="52.8" fill="#111111" stroke="#111111" stroke-width="0.6" textLength="146.39" lengthAdjust="spacingAndGlyphs">HOW</text>
<text x="494.03" y="268" font-size="52.8" fill="#111111" stroke="#111111" stroke-width="0.6" textLength="158.54" lengthAdjust="spacingAndGlyphs">DOES</text>
<text x="666.0" y="268" font-size="52.8" fill="#111111" stroke="#111111" stroke-width="0.6" textLength="85.11" lengthAdjust="spacingAndGlyphs">AN</text>
<text x="75.2" y="331.5" font-size="52.5" fill="#0c2a70" stroke="#0c2a70" textLength="249.59" lengthAdjust="spacingAndGlyphs">ON-GRID</text>
<text x="343.3" y="331.5" font-size="52.5" fill="#0c2a70" stroke="#0c2a70" textLength="188.89" lengthAdjust="spacingAndGlyphs">SOLAR</text>
<text x="551.0" y="331.5" font-size="52.5" fill="#0c2a70" stroke="#0c2a70" textLength="222.55" lengthAdjust="spacingAndGlyphs">SYSTEM</text>
<text x="791.4" y="331.5" font-size="52.5" fill="#0c2a70" stroke="#0c2a70" textLength="214.44" lengthAdjust="spacingAndGlyphs">WORK?</text>
</g>

<!-- ===== grid poles & wires ===== -->
<path d="M657.5,576 C657.5,548 668,534 689,533.5 C712,533 735,549 756,549.5 C776,550 787,535 787,505 L786.5,482" fill="none" stroke="#e2161e" stroke-width="6.2"/>
<g fill="none" stroke="#c6c6c6" stroke-width="2.5" stroke-linecap="round" opacity="0.8">
<path d="M784,488 Q774,503 760,521"/>
<path d="M790,482 C815,500 850,512 906,505"/>
<path d="M894,488 C888,540 840,615 754,640"/>
<path d="M896,486 C902,505 915,522 937,527"/>
<path d="M850,513 Q880,508 906,506"/>
<path d="M909,503 Q925,505 937,506"/>
</g>
<rect x="831.5" y="443" width="16" height="200.5" fill="#252525"/>
<rect x="936.7" y="477.3" width="10.5" height="162.5" fill="#252525"/>
<g fill="none" stroke="#252525" stroke-width="3.6" stroke-linejoin="miter">
<polyline points="788,484.5 809.8,512.2 867.6,512.2 888,483.3 897.7,483.3"/>
<polyline points="908.5,511 923,533.9 960.3,533.9 974.7,509.8 980.7,509.8"/>
</g>
<g fill="#252525" stroke="#252525">
<line x1="785.7" y1="468.5" x2="785.7" y2="492" stroke-width="1.8"/>
<line x1="778.5" y1="484.5" x2="791.8" y2="484.5" stroke-width="2.4"/>
<circle cx="785.7" cy="476.1" r="3.3" stroke="none"/>
<line x1="893.3" y1="468.5" x2="893.3" y2="492" stroke-width="1.8"/>
<line x1="886.8" y1="483.3" x2="897.7" y2="483.3" stroke-width="2.4"/>
<circle cx="893.3" cy="476.1" r="3.3" stroke="none"/>
<line x1="906.1" y1="497.8" x2="906.1" y2="518.2" stroke-width="1.5"/>
<line x1="901.3" y1="511" x2="909.7" y2="511" stroke-width="2"/>
<circle cx="906.1" cy="503.8" r="2.6" stroke="none"/>
<line x1="978.3" y1="497.8" x2="978.3" y2="518.2" stroke-width="1.5"/>
<line x1="972.3" y1="509.8" x2="980.7" y2="509.8" stroke-width="2"/>
<circle cx="978.3" cy="503.8" r="2.6" stroke="none"/>
</g>

<!-- ===== red wires ===== -->
<g fill="#e31b23">
<rect x="319.5" y="684.4" width="56.5" height="5.6"/>
<path d="M339,679.9 Q342.5,682.6 347,684.6 L348.5,690 Q343,692.6 339,698.7 Z"/>
<rect x="652.5" y="644" width="5.6" height="203.8"/>
<rect x="652.5" y="842.4" width="66" height="5.4"/>
<rect x="613" y="721.6" width="42" height="5.8"/>
<path d="M615.3,714.4 Q621,721 630,724.5 Q621,728 615.3,735.7 Z"/>
<path d="M643.8,673.6 Q650,670 655.3,663 Q660.6,670 666.8,673.6 Z"/>
<path d="M643.8,696 Q650,699.5 655.3,706.5 Q660.6,699.5 666.8,696 Z"/>
<path d="M643.8,776.5 Q650,780 655.3,786.5 Q660.6,780 666.8,776.5 Z"/>
</g>

<!-- ===== meter ===== -->
<defs>
<linearGradient id="ringG" x1="0.2" y1="0.1" x2="0.8" y2="0.95">
<stop offset="0" stop-color="#d2dbe7"/><stop offset="0.5" stop-color="#b4c1d3"/><stop offset="1" stop-color="#8f9db3"/>
</linearGradient>
<radialGradient id="faceG" cx="0.42" cy="0.38" r="0.7">
<stop offset="0" stop-color="#f6f8fb"/><stop offset="0.75" stop-color="#e7ecf2"/><stop offset="1" stop-color="#cbd3de"/>
</radialGradient>
<linearGradient id="bulgeG" x1="0" y1="0" x2="1" y2="1">
<stop offset="0" stop-color="#c9ccd1"/><stop offset="1" stop-color="#9ea4ad"/>
</linearGradient>
</defs>
<circle cx="655.2" cy="610.7" r="36" fill="url(#ringG)"/>
<circle cx="655.2" cy="610.7" r="35.2" fill="none" stroke="#8a98ae" stroke-width="1.2"/>
<circle cx="656.3" cy="611.2" r="29.3" fill="#a9b5c6"/>
<circle cx="656.5" cy="611" r="28.3" fill="url(#faceG)"/>
<path d="M684.5,609 A28.3,28.3 0 0 1 662.5,638.8 Q664,628 671,621 Q678,614 684.5,609 Z" fill="url(#bulgeG)" opacity="0.9"/>
<rect x="638.3" y="599.6" width="33" height="9.3" rx="0.8" fill="#4a5054"/>
<rect x="639.6" y="600.8" width="30.4" height="6.9" fill="#737b7a"/>
<g fill="#3c4242"><rect x="641" y="602" width="3" height="4.5"/><rect x="652" y="602" width="3" height="4.5"/><rect x="656" y="602" width="3" height="4.5"/><rect x="660" y="602" width="3" height="4.5"/><rect x="664" y="602" width="3" height="4.5"/></g>
<circle cx="679.4" cy="604" r="2.5" fill="#17202c"/>
<rect x="648" y="594.6" width="14.4" height="1.4" fill="#5a5f66"/>
<rect x="631" y="602" width="1.6" height="6" fill="#8c9198"/>
<rect x="633" y="613.2" width="40" height="0.8" fill="#9aa0a8"/>
<rect x="635" y="615.6" width="27" height="1.8" fill="#5f656d"/>
<rect x="637" y="620" width="21" height="1.3" fill="#6f757d"/>
<rect x="641" y="624.4" width="10" height="1" fill="#8a9098"/>
<rect x="640" y="627.2" width="13" height="1.4" fill="#6a7078"/>
<path d="M641,633 Q648,630 655,634" fill="none" stroke="#b0b6be" stroke-width="0.8"/>
<rect x="671.3" y="617.6" width="12.2" height="10.4" rx="3.5" fill="#5c6168"/>
<rect x="673.5" y="621" width="8" height="2.6" fill="#2a2e33"/>
<!-- ===== inverter ===== -->
<g>
<path d="M379,768 H400 V773 L392,782.5 H383 Q379,782 379,778 Z" fill="#202020"/>
<path d="M609.6,768 H592 V773 L600,782.5 H606 Q609.6,782 609.6,778 Z" fill="#202020"/>
<line x1="392" y1="771" x2="511" y2="771" stroke="#1e1e1e" stroke-width="5.4" stroke-dasharray="5 1 3.5 0.8 6 1.2 4 0.8"/>
<rect x="525" y="768" width="10.5" height="23" rx="1" fill="#1e1e1e"/>
<rect x="529" y="776" width="1.2" height="6" fill="#c0392b"/>
<rect x="547" y="768" width="4" height="4" fill="#222"/>
<rect x="556" y="768" width="5" height="4" fill="#222"/>
<path d="M571,768 H592 V775 Q585,778 571,777 Z" fill="#2a4a36"/>
<rect x="375.8" y="644.3" width="237.2" height="125" fill="#ececec" stroke="#d3d3d3" stroke-width="0.8"/>
<line x1="540.8" y1="644.5" x2="540.8" y2="769" stroke="#bdbdbd" stroke-width="1.2"/>
<g fill="#3a3a3a">
<circle cx="384.4" cy="647" r="1.4"/><circle cx="458" cy="647" r="1.4"/><circle cx="531.3" cy="647" r="1.4"/><circle cx="548.7" cy="647" r="1.4"/><circle cx="604.3" cy="647" r="1.4"/>
<circle cx="384.4" cy="767" r="1.4"/><circle cx="458" cy="767" r="1.4"/><circle cx="531.3" cy="767" r="1.4"/><circle cx="548.7" cy="767" r="1.4"/><circle cx="604.3" cy="767" r="1.4"/>
</g>
<rect x="434" y="699" width="45" height="41" rx="4" fill="#fafafa"/>
<rect x="435.8" y="700.8" width="41.3" height="37.4" rx="3" fill="#030303"/>
<rect x="447.3" y="719.8" width="18.1" height="4.8" fill="#2fb14a"/>
<g fill="#d8d8d8">
<rect x="446" y="716" width="1.4" height="1.6"/><rect x="452.6" y="716" width="1.6" height="1.6"/><rect x="458.8" y="716" width="1.8" height="1.6"/><rect x="465" y="716" width="1.8" height="1.6"/>
<rect x="452" y="727" width="1.6" height="2"/><rect x="458.6" y="727" width="2.6" height="1.4"/>
</g>
<!-- mini logo -->
<circle cx="550.8" cy="662.6" r="3.1" fill="#c9232c"/><rect x="547.5" y="661.8" width="6.6" height="0.5" fill="#f4d0d0"/><rect x="547.5" y="663" width="6.6" height="0.5" fill="#f4d0d0"/>
<text x="553.6" y="665.8" font-family="Liberation Serif" font-weight="bold" font-size="9.3" fill="#c9232c" textLength="20" lengthAdjust="spacingAndGlyphs">UTL</text>
<text x="577" y="665.8" font-family="Liberation Serif" font-weight="bold" font-size="9.3" fill="#17623f" textLength="30.5" lengthAdjust="spacingAndGlyphs">SOLAR</text>
</g>

<!-- ===== house ===== -->
<defs>
<pattern id="tileD" patternUnits="userSpaceOnUse" width="3.6" height="40" patternTransform="rotate(28)">
<rect width="3.6" height="40" fill="#333438"/><rect x="2.4" width="1.2" height="40" fill="#4b4d52"/>
</pattern>
<pattern id="tileH" patternUnits="userSpaceOnUse" width="6" height="4" patternTransform="rotate(-4)">
<rect width="6" height="4" fill="#313236"/><rect y="3" width="6" height="1" fill="#4a4c51"/><rect x="2" width="0.8" height="3" fill="#3c3e42"/>
</pattern>
<pattern id="tileG" patternUnits="userSpaceOnUse" width="5" height="3.6" patternTransform="rotate(-33)">
<rect width="5" height="3.6" fill="#323337"/><rect y="2.6" width="5" height="1" fill="#46484d"/><rect x="2" width="0.7" height="2.6" fill="#3a3b3f"/>
</pattern>
</defs>
<g id="house">
<!-- garage roof -->
<polygon points="696,794 769,729 800,727 813,718 813,781 766,781 766,797 696,797" fill="url(#tileG)"/>
<polyline points="696,795.5 766,795.5" stroke="#2a2b2e" stroke-width="2.2"/>
<!-- main right roof: side face -->
<polygon points="894,681 930,700.4 1000.4,693.6 1011.4,741 1000.4,742 999,753.9 1047.7,789 1046,792 962.8,770 961,764" fill="url(#tileH)"/>
<!-- main right roof: front face -->
<polygon points="841,673 879,685 894,681 961,764 962.8,770 870,778 889,728 896,722" fill="url(#tileD)"/>
<line x1="894" y1="682" x2="961" y2="764" stroke="#25262a" stroke-width="3"/><line x1="894" y1="682" x2="961" y2="764" stroke="#75787d" stroke-width="2" stroke-dasharray="1.4 2.2"/>
<polyline points="870,776 962.8,769 1047.5,790" fill="none" stroke="#2b2c30" stroke-width="2.4"/>
<!-- dormer wall -->
<polygon points="944.8,730.5 999,729.3 999,760.4" fill="#c2cfe1"/>
<rect x="986" y="729.3" width="6.6" height="27" fill="#6f747b"/>
<polygon points="944.8,729 962,728.5 963,732 945,733" fill="#d8ccb0"/>
<!-- right wall -->
<polygon points="943,772 1022,792 1022,853 943,856" fill="#b8c5d7"/>
<polygon points="962.8,769.5 1047.5,789.5 1046,792.5 1022,791.5 943,773.5" fill="#e4e8ee"/>
<polygon points="981,794 1022,796 1022,850.5 981,851" fill="#c8711f"/>
<rect x="986.5" y="797" width="6.5" height="35" fill="#6f737a"/>
<rect x="1003" y="798" width="7" height="34" fill="#6f737a"/>
<rect x="988" y="799" width="3" height="31" fill="#8c9199"/>
<rect x="1005" y="800" width="3" height="30" fill="#8c9199"/>
<!-- middle white wall -->
<rect x="884" y="773" width="59.5" height="81" fill="#f4f5f7"/>
<rect x="884" y="773" width="59.5" height="33" fill="#c9d3e0"/>
<rect x="885" y="789.3" width="28.2" height="42.7" fill="#777c84"/>
<rect x="887.5" y="791.5" width="10.5" height="38.5" fill="#959ba4"/>
<rect x="900" y="791.5" width="11" height="38.5" fill="#959ba4"/>
<!-- garage wall -->
<rect x="718" y="796.5" width="48" height="57.5" fill="#e9ecf1"/>
<rect x="728.9" y="803.9" width="37" height="47.6" fill="#63676d"/>
<rect x="730" y="806" width="35" height="8" fill="#72767c"/>
<rect x="730" y="815.5" width="35" height="7" fill="#9a9ea4"/>
<rect x="730" y="824" width="35" height="7.5" fill="#a8acb1"/>
<rect x="730" y="833" width="35" height="17" fill="#6e7278"/>
<g stroke="#5a5e64" stroke-width="0.6"><line x1="730" y1="838" x2="765" y2="838"/><line x1="730" y1="842" x2="765" y2="842"/><line x1="730" y1="846" x2="765" y2="846"/><line x1="730" y1="810" x2="765" y2="810"/></g>
<!-- white section -->
<rect x="766" y="781" width="47.5" height="72" fill="#f4f5f7"/>
<rect x="766" y="781" width="47.5" height="10" fill="#dfe3ea"/>
<rect x="789" y="793.2" width="23.5" height="38" fill="#767b83"/>
<rect x="791" y="795" width="9.5" height="34.5" fill="#959ba4"/>
<rect x="802" y="795" width="9" height="34.5" fill="#959ba4"/>
<!-- orange central -->
<rect x="813.5" y="781" width="70.5" height="72" fill="#ee8a2a"/>
<rect x="837.8" y="791.2" width="20.4" height="62.3" fill="#686b70"/>
<g fill="#dde1e6"><rect x="844" y="799" width="5" height="3.5" rx="1"/><rect x="844" y="806" width="5" height="3.5" rx="1"/><rect x="845" y="813" width="4" height="5" rx="1"/><rect x="844" y="822" width="5" height="3.5" rx="1"/><rect x="844" y="829" width="5" height="3.5" rx="1"/></g>
<!-- upper gable -->
<polygon points="799,732 841.7,681 888,724 884,781 813,781 813,733" fill="#ef8b2c"/>
<polygon points="794.5,731 840,672 901,722 897,727 841.7,680 798,735" fill="#2e2f33"/>
<polyline points="797.5,733 841.7,680.5 890.5,725.5" fill="none" stroke="#e3e5e9" stroke-width="2.8"/>
<line x1="841.7" y1="683" x2="841.7" y2="711" stroke="#e3e5e9" stroke-width="2.4"/>
<line x1="824" y1="707.8" x2="862" y2="703.3" stroke="#e3e5e9" stroke-width="2.4"/>
<rect x="824.2" y="724.2" width="18.3" height="49" fill="#858a92"/>
<rect x="853.3" y="720.8" width="18.4" height="51.7" fill="#858a92"/>
<rect x="826" y="727" width="14.5" height="44" fill="#979ca4"/>
<rect x="855" y="723.5" width="14.5" height="46.5" fill="#979ca4"/>
<!-- balcony -->
<rect x="796" y="746.5" width="86" height="30" fill="#d3d7de" opacity="0.45"/>
<g stroke="#eceef1" stroke-width="1.3"><line x1="796" y1="746.5" x2="882" y2="745.5"/><line x1="796.5" y1="746.5" x2="796.5" y2="777"/><line x1="812.5" y1="747" x2="812.5" y2="777"/><line x1="819" y1="747" x2="819" y2="777"/><line x1="842.5" y1="746" x2="842.5" y2="777"/><line x1="867" y1="745.5" x2="867" y2="777"/><line x1="869.5" y1="745.5" x2="869.5" y2="777"/></g>
<rect x="795.8" y="776" width="73" height="2.6" fill="#e0e3e8"/>
<rect x="795.8" y="778.6" width="73" height="5.8" fill="#ee8a2c"/>
<!-- downpipes -->
<g fill="none" stroke="#2c2d31" stroke-width="1.8">
<path d="M708,797 Q708,805 716,810 Q720,812 720,818 V853"/>
<path d="M754,781 Q754,790 764,797 Q768,800 768,806 V853"/>
<path d="M925.8,772 Q926,780 932,786 Q935,790 935,796 V857"/>
</g>
<!-- base -->
<polygon points="716,851 1022,850 1022,855 943,862 716,856" fill="#7a7d82"/>
<polygon points="790,853 850,853 852,862 790,862" fill="#a0a3a7"/>
</g>

<!-- ===== labels ===== -->
<g font-family="Liberation Sans" font-weight="bold" font-size="20" fill="#111">
<text x="151.6" y="897.8" textLength="124" lengthAdjust="spacingAndGlyphs">Solar Panel</text>
<text x="453.8" y="834.9" textLength="88" lengthAdjust="spacingAndGlyphs">Inverter</text>
<text x="799.6" y="897.8" textLength="70.6" lengthAdjust="spacingAndGlyphs">House</text>
<text x="511.6" y="569.4" textLength="113.4" lengthAdjust="spacingAndGlyphs">Net-meter</text>
<text x="802.7" y="430" textLength="46.6" lengthAdjust="spacingAndGlyphs">Grid</text>
</g>

</svg>
</body></html>
